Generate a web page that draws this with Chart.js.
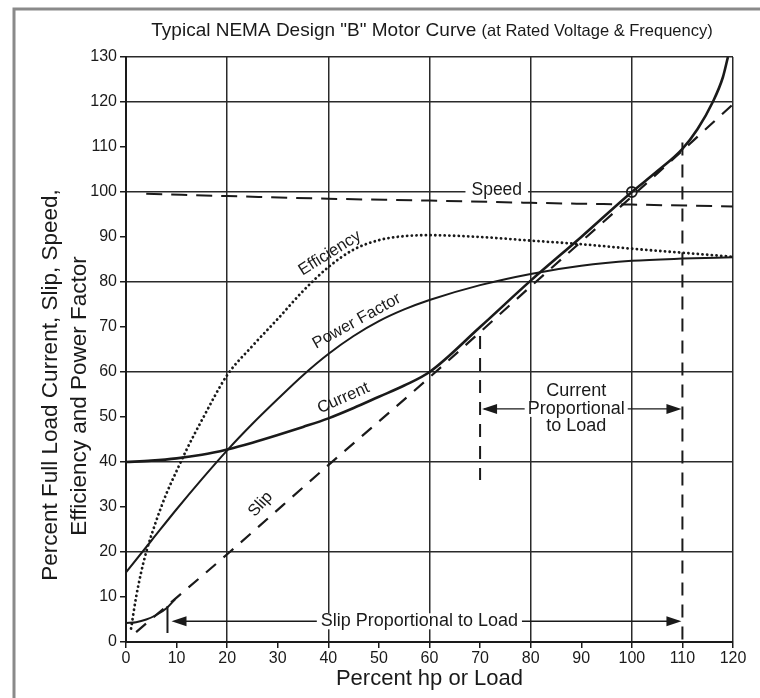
<!DOCTYPE html>
<html>
<head>
<meta charset="utf-8">
<title>NEMA Design B Motor Curve</title>
<script src="https://cdn.jsdelivr.net/npm/chart.js@4/dist/chart.umd.min.js"></script>
<style>
  body { margin: 0; background: #fff; }
  #wrap { width: 760px; height: 698px; position: relative; }
</style>
</head>
<body>
<div id="wrap"><canvas id="motorChart"></canvas></div>
<script>
// values (x = percent load, y = percent)
const xTicks = [0, 10, 20, 30, 40, 50, 60, 70, 80, 90, 100, 110, 120];
const yTicks = [0, 10, 20, 30, 40, 50, 60, 70, 80, 90, 100, 110, 120, 130];

const currentLoad = [0, 5, 10, 15, 20, 25, 30, 35, 40, 45, 50, 55, 60, 70, 80, 90, 100, 105, 110, 113, 116, 118, 119];
const currentPct  = [40, 40.3, 40.8, 41.6, 42.8, 44.3, 46, 47.8, 49.7, 52, 54.5, 57, 60, 70, 80.3, 90, 100, 104.6, 109.6, 114, 120, 125.5, 130];

const pfLoad = [0, 5, 10, 15, 20, 25, 30, 35, 40, 45, 50, 55, 60, 70, 80, 90, 100, 110, 120];
const pfPct  = [15.5, 22.5, 29.5, 36.2, 42.6, 48.5, 54, 59.3, 64, 68, 71.3, 73.9, 76, 79.3, 81.8, 83.6, 84.7, 85.2, 85.5];

const effLoad = [1, 2, 3, 4, 6, 8, 10, 12, 15, 20, 25, 30, 35, 40, 45, 50, 55, 60, 70, 80, 90, 100, 110, 120];
const effPct  = [3, 10, 15.5, 20, 27, 33, 38, 42.8, 49.3, 59.3, 65.8, 71.8, 78, 83.3, 87.2, 89.3, 90.2, 90.4, 90, 89.2, 88.4, 87.4, 86.5, 85.6];

const slipLoad = [2, 20, 40, 60, 80, 100, 120];
const slipPct  = [2.2, 19.5, 39.3, 58.8, 79, 99, 119.5];

const slipLowLoad = [0, 2, 4, 6, 8, 9.7];
const slipLowPct  = [4.2, 4.4, 5, 6, 7.5, 9.5];

const speedLoad = [4, 20, 40, 60, 80, 100, 120];
const speedPct  = [99.6, 99.1, 98.5, 98.1, 97.6, 97.2, 96.8];

const yTitle = ['Percent Full Load Current, Slip, Speed,', 'Efficiency and Power Factor'];

const FONT = "'Liberation Sans', Arial, Helvetica, sans-serif";
const INK = '#1a1a1a';

function pairs(xs, ys) {
    return xs.map((x, i) => ({ x: x, y: ys[i] }));
}

function arrowHead(ctx, tipX, y, dir) {
    ctx.beginPath();
    ctx.moveTo(tipX, y);
    ctx.lineTo(tipX - dir * 15, y - 5);
    ctx.lineTo(tipX - dir * 15, y + 5);
    ctx.closePath();
    ctx.fill();
}

function boxedText(ctx, text, x, y, pad) {
    const w = ctx.measureText(text).width;
    ctx.fillStyle = '#fff';
    ctx.fillRect(x - w / 2 - pad, y - 8, w + pad * 2, 16);
    ctx.fillStyle = INK;
    ctx.fillText(text, x, y);
}

function curveLabel(ctx, text, x, y, deg) {
    ctx.save();
    ctx.translate(x, y);
    ctx.rotate(deg * Math.PI / 180);
    ctx.fillText(text, 0, 0);
    ctx.restore();
}

// frame of the scanned page, the two-part heading and the y title
const pagePlugin = {
    id: 'page',
    beforeDraw(chart) {
        const ctx = chart.ctx;
        ctx.save();
        ctx.fillStyle = '#fff';
        ctx.fillRect(0, 0, chart.width, chart.height);
        ctx.strokeStyle = '#8a8a8a';
        ctx.lineWidth = 3;
        ctx.beginPath();
        ctx.moveTo(14, chart.height);
        ctx.lineTo(14, 9);
        ctx.lineTo(chart.width, 9);
        ctx.stroke();

        const a = 'Typical NEMA Design "B" Motor Curve ';
        const b = '(at Rated Voltage & Frequency)';
        ctx.font = '19px ' + FONT;
        const wa = ctx.measureText(a).width;
        ctx.font = '16.5px ' + FONT;
        const wb = ctx.measureText(b).width;
        const x0 = 432 - (wa + wb) / 2;
        ctx.fillStyle = INK;
        ctx.textBaseline = 'alphabetic';
        ctx.font = '19px ' + FONT;
        ctx.fillText(a, x0, 36);
        ctx.font = '16.5px ' + FONT;
        ctx.fillText(b, x0 + wa, 36);

        ctx.font = '22.5px ' + FONT;
        ctx.textAlign = 'center';
        ctx.textBaseline = 'middle';
        curveLabel(ctx, yTitle[0], 51, 385, -90);
        curveLabel(ctx, yTitle[1], 80, 396, -90);
        ctx.restore();
    }
};

// curve names, arrows and markers placed through the scales
const notesPlugin = {
    id: 'notes',
    afterDatasetsDraw(chart) {
        const ctx = chart.ctx;
        const x = chart.scales.x, y = chart.scales.y;
        const px = v => x.getPixelForValue(v);
        const py = v => y.getPixelForValue(v);
        ctx.save();
        ctx.strokeStyle = INK;
        ctx.fillStyle = INK;

        // rated point
        ctx.lineWidth = 1.8;
        ctx.beginPath();
        ctx.arc(px(100), py(100), 5, 0, Math.PI * 2);
        ctx.stroke();

        // dashed limits of proportional zones
        ctx.lineWidth = 2;
        ctx.setLineDash([13, 9]);
        ctx.beginPath();
        ctx.moveTo(px(70), py(68));
        ctx.lineTo(px(70), py(36));
        ctx.moveTo(px(110), py(111));
        ctx.lineTo(px(110), py(0));
        ctx.stroke();
        ctx.setLineDash([]);

        ctx.beginPath();
        ctx.moveTo(px(8.2), py(8));
        ctx.lineTo(px(8.2), py(2));
        ctx.stroke();

        // current proportional arrow
        ctx.lineWidth = 1.4;
        ctx.beginPath();
        ctx.moveTo(px(70) + 4, py(51.8));
        ctx.lineTo(px(110) - 4, py(51.8));
        ctx.stroke();
        arrowHead(ctx, px(70) + 2, py(51.8), -1);
        arrowHead(ctx, px(110) - 1, py(51.8), 1);

        // slip proportional arrow
        ctx.beginPath();
        ctx.moveTo(px(9) + 4, py(4.6));
        ctx.lineTo(px(110) - 4, py(4.6));
        ctx.stroke();
        arrowHead(ctx, px(9), py(4.6), -1);
        arrowHead(ctx, px(110) - 1, py(4.6), 1);

        ctx.textAlign = 'center';
        ctx.textBaseline = 'middle';
        ctx.font = '18px ' + FONT;
        boxedText(ctx, 'Slip Proportional to Load', px(58), py(4.6), 4);
        boxedText(ctx, 'Proportional', px(89), py(51.8), 3);
        ctx.fillText('Current', px(89), py(55.8));
        ctx.fillText('to Load', px(89), py(47.9));
        ctx.font = '17.5px ' + FONT;
        boxedText(ctx, 'Speed', px(73.3), py(100.4), 6);

        ctx.fillStyle = INK;
        ctx.font = '16.5px ' + FONT;
        curveLabel(ctx, 'Efficiency', px(40.3), py(86.4), -32);
        curveLabel(ctx, 'Power Factor', px(45.6), py(71.3), -29);
        curveLabel(ctx, 'Current', px(43), py(54.2), -24);
        curveLabel(ctx, 'Slip', px(26.6), py(30.6), -48);
        ctx.restore();
    }
};

const gridColor = (ctx) => {
    const v = ctx.tick ? ctx.tick.value : 0;
    return (v % 20 === 0 || v === 130) ? '#2a2a2a' : 'rgba(0,0,0,0)';
};

new Chart(document.getElementById('motorChart').getContext('2d'), {
    type: 'line',
    data: {
        datasets: [
            { label: 'Current', data: pairs(currentLoad, currentPct), borderColor: INK, borderWidth: 2.6 },
            { label: 'Power Factor', data: pairs(pfLoad, pfPct), borderColor: INK, borderWidth: 2 },
            { label: 'Efficiency', data: pairs(effLoad, effPct), borderColor: INK, borderWidth: 2.8,
              borderDash: [0.1, 4.6], borderCapStyle: 'round' },
            { label: 'Slip', data: pairs(slipLoad, slipPct), borderColor: INK, borderWidth: 2.2,
              borderDash: [13, 10], tension: 0 },
            { label: 'Slip (light load)', data: pairs(slipLowLoad, slipLowPct), borderColor: INK, borderWidth: 2 },
            { label: 'Speed', data: pairs(speedLoad, speedPct), borderColor: INK, borderWidth: 2,
              borderDash: [16, 9] }
        ]
    },
    options: {
        responsive: true,
        maintainAspectRatio: false,
        animation: false,
        layout: { padding: { left: 20, right: 27, top: 57, bottom: 6 } },
        elements: {
            point: { radius: 0 },
            line: { cubicInterpolationMode: 'monotone', fill: false }
        },
        plugins: {
            legend: { display: false },
            tooltip: { enabled: false }
        },
        scales: {
            x: {
                type: 'linear',
                min: 0,
                max: 120,
                afterFit: (scale) => { scale.height = 50; },
                afterBuildTicks: (scale) => { scale.ticks = xTicks.map(v => ({ value: v })); },
                border: { color: INK, width: 2 },
                grid: { color: gridColor, lineWidth: 1.5, tickColor: INK, tickLength: 6 },
                ticks: { color: INK, font: { family: FONT, size: 16 }, padding: 1, maxRotation: 0 },
                title: { display: true, text: 'Percent hp or Load', color: INK,
                         font: { family: FONT, size: 22 }, padding: { top: 0, bottom: 0 } }
            },
            y: {
                min: 0,
                max: 130,
                afterFit: (scale) => { scale.width = 106; },
                afterBuildTicks: (scale) => { scale.ticks = yTicks.map(v => ({ value: v })); },
                border: { color: INK, width: 2 },
                grid: { color: gridColor, lineWidth: 1.5, tickColor: INK, tickLength: 6 },
                ticks: { color: INK, font: { family: FONT, size: 16 }, padding: 3 },
                title: { display: false }
            }
        }
    },
    plugins: [pagePlugin, notesPlugin]
});
</script>
</body>
</html>
